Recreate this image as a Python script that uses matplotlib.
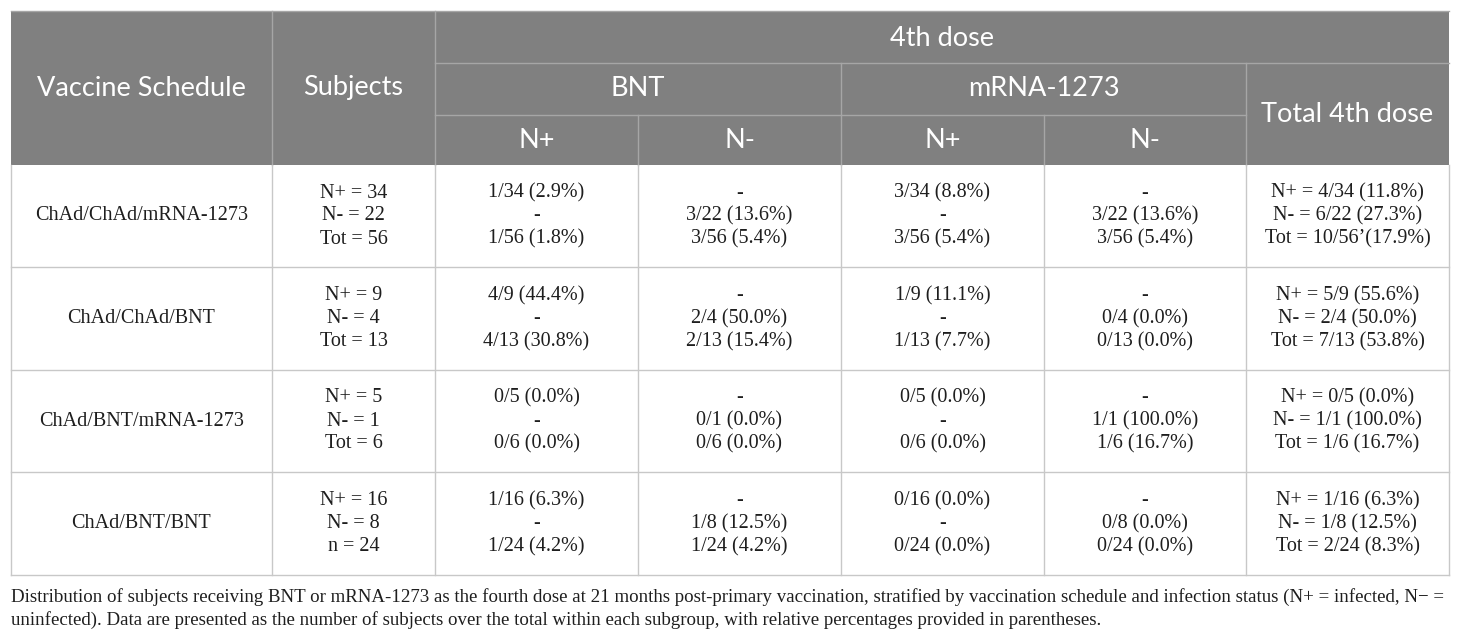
import matplotlib
matplotlib.use("Agg")
import matplotlib.pyplot as plt
from matplotlib.patches import Rectangle

# ---------------- data ----------------
schedules = ["ChAd/ChAd/mRNA-1273", "ChAd/ChAd/BNT", "ChAd/BNT/mRNA-1273", "ChAd/BNT/BNT"]
subjects = [["N+ = 34", "N- = 22", "Tot = 56"],
            ["N+ = 9", "N- = 4", "Tot = 13"],
            ["N+ = 5", "N- = 1", "Tot = 6"],
            ["N+ = 16", "N- = 8", "n = 24"]]
bnt_pos = [["1/34 (2.9%)", "-", "1/56 (1.8%)"],
           ["4/9 (44.4%)", "-", "4/13 (30.8%)"],
           ["0/5 (0.0%)", "-", "0/6 (0.0%)"],
           ["1/16 (6.3%)", "-", "1/24 (4.2%)"]]
bnt_neg = [["-", "3/22 (13.6%)", "3/56 (5.4%)"],
           ["-", "2/4 (50.0%)", "2/13 (15.4%)"],
           ["-", "0/1 (0.0%)", "0/6 (0.0%)"],
           ["-", "1/8 (12.5%)", "1/24 (4.2%)"]]
mrna_pos = [["3/34 (8.8%)", "-", "3/56 (5.4%)"],
            ["1/9 (11.1%)", "-", "1/13 (7.7%)"],
            ["0/5 (0.0%)", "-", "0/6 (0.0%)"],
            ["0/16 (0.0%)", "-", "0/24 (0.0%)"]]
mrna_neg = [["-", "3/22 (13.6%)", "3/56 (5.4%)"],
            ["-", "0/4 (0.0%)", "0/13 (0.0%)"],
            ["-", "1/1 (100.0%)", "1/6 (16.7%)"],
            ["-", "0/8 (0.0%)", "0/24 (0.0%)"]]
total_4th = [["N+ = 4/34 (11.8%)", "N- = 6/22 (27.3%)", "Tot = 10/56\u2019(17.9%)"],
             ["N+ = 5/9 (55.6%)", "N- = 2/4 (50.0%)", "Tot = 7/13 (53.8%)"],
             ["N+ = 0/5 (0.0%)", "N- = 1/1 (100.0%)", "Tot = 1/6 (16.7%)"],
             ["N+ = 1/16 (6.3%)", "N- = 1/8 (12.5%)", "Tot = 2/24 (8.3%)"]]
header_top = ["Vaccine Schedule", "Subjects", "4th dose"]
header_mid = ["BNT", "mRNA-1273", "Total 4th dose"]
header_low = ["N+", "N-", "N+", "N-"]
caption = ["Distribution of subjects receiving BNT or mRNA-1273 as the fourth dose at 21 months post-primary vaccination, stratified by vaccination schedule and infection status (N+ = infected, N\u2212 =",
           "uninfected). Data are presented as the number of subjects over the total within each subgroup, with relative percentages provided in parentheses."]

# ---------------- layout ----------------
W, H = 1460, 639
fig = plt.figure(figsize=(W / 100, H / 100), dpi=100)
ax = fig.add_axes([0, 0, 1, 1])
ax.set_xlim(0, W)
ax.set_ylim(H, 0)
ax.axis("off")

cols = [11, 272, 435, 638, 841, 1044, 1246, 1449]
hy = [11, 63, 115, 165]
rows = [165, 267, 370, 472, 575]
hdr_col = "#808080"
hdr_line = "#a6a6a6"
body_line = "#c8c8c8"
txt_col = "#1e1e1e"
sans = ["Lato", "DejaVu Sans"]
serif = ["Liberation Serif", "DejaVu Serif"]

ax.add_patch(Rectangle((cols[0], hy[0]), cols[-1] - cols[0], hy[-1] - hy[0],
                       facecolor=hdr_col, edgecolor="none", zorder=1))
lw = 1.0
# header lines
ax.plot([cols[2], cols[-1]], [hy[1], hy[1]], color=hdr_line, lw=lw, zorder=2)
ax.plot([cols[2], cols[6]], [hy[2], hy[2]], color=hdr_line, lw=lw, zorder=2)
for x in [cols[1], cols[2]]:
    ax.plot([x, x], [hy[0], hy[3]], color=hdr_line, lw=lw, zorder=2)
ax.plot([cols[4], cols[4]], [hy[1], hy[3]], color=hdr_line, lw=lw, zorder=2)
ax.plot([cols[6], cols[6]], [hy[1], hy[3]], color=hdr_line, lw=lw, zorder=2)
for x in [cols[3], cols[5]]:
    ax.plot([x, x], [hy[2], hy[3]], color=hdr_line, lw=lw, zorder=2)
ax.plot([cols[0], cols[-1]], [hy[0], hy[0]], color=hdr_line, lw=lw, zorder=2)

# body lines
for y in rows[1:]:
    ax.plot([cols[0], cols[-1]], [y, y], color=body_line, lw=lw, zorder=2)
for x in cols:
    ax.plot([x, x], [rows[0], rows[-1]], color=body_line, lw=lw, zorder=2)

# header text
hfs = 19.5
def htxt(x, y, s):
    ax.text(x, y, s, ha="center", va="center", color="white", fontsize=hfs,
            family=sans, zorder=3)
htxt((cols[0] + cols[1]) / 2, (hy[0] + hy[3]) / 2, header_top[0])
htxt((cols[1] + cols[2]) / 2, (hy[0] + hy[3]) / 2, header_top[1])
htxt((cols[2] + cols[-1]) / 2, (hy[0] + hy[1]) / 2 + 1, header_top[2])
htxt((cols[2] + cols[4]) / 2, (hy[1] + hy[2]) / 2, header_mid[0])
htxt((cols[4] + cols[6]) / 2, (hy[1] + hy[2]) / 2, header_mid[1])
htxt((cols[6] + cols[7]) / 2, (hy[1] + hy[3]) / 2, header_mid[2])
for i, s in enumerate(header_low):
    htxt((cols[2 + i] + cols[3 + i]) / 2, (hy[2] + hy[3]) / 2, s)

# body text
bfs = 14.5
dy = 23
columns = [subjects, bnt_pos, bnt_neg, mrna_pos, mrna_neg, total_4th]
for r in range(len(schedules)):
    yc = (rows[r] + rows[r + 1]) / 2
    ax.text((cols[0] + cols[1]) / 2, yc, schedules[r], ha="center", va="center",
            fontsize=bfs, family=serif, color=txt_col, zorder=3)
    for c, data in enumerate(columns):
        xc = (cols[1 + c] + cols[2 + c]) / 2
        for k, s in enumerate(data[r]):
            ax.text(xc, yc + (k - 1) * dy, s, ha="center", va="center",
                    fontsize=bfs, family=serif, color=txt_col, zorder=3)

# caption
for k, s in enumerate(caption):
    ax.text(cols[0], 597 + k * 23, s, ha="left", va="center", fontsize=13.6,
            family=serif, color=txt_col)

fig.savefig("out.png", dpi=100)
